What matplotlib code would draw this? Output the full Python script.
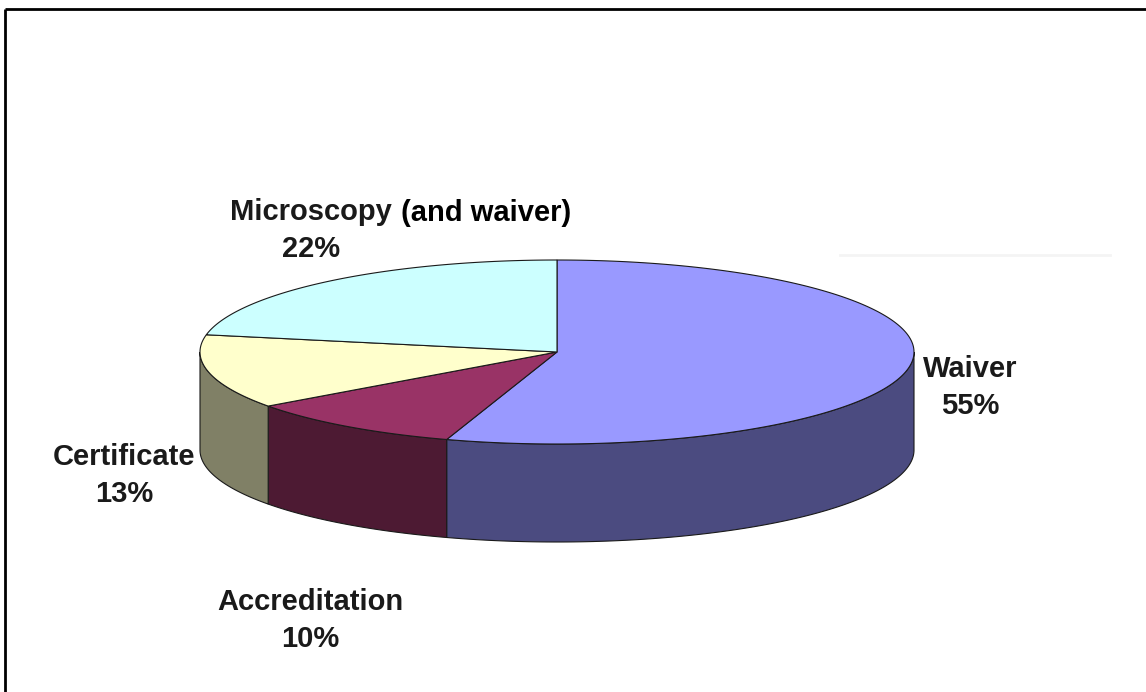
import numpy as np
import matplotlib.pyplot as plt
from matplotlib.patches import Polygon

# slice data (clockwise from 12 o'clock)
labels = ['Waiver', 'Accreditation', 'Certificate', 'Microscopy']
shares = [55, 10, 13, 22]
top_colors = ['#9999FF', '#993366', '#FFFFCC', '#CCFFFF']
side_colors = ['#4B4B80', '#4D1A33', '#808066', '#668080']

# label positions (pixel centre x, baseline y)
label_x = [970, 310, 124, 311]
label_y = [377, 610, 465, 220]

# pie geometry in pixels
cx, cy = 557, 352
rx, ry = 357, 92
depth = 98

fig = plt.figure(figsize=(11.46, 6.92), dpi=100)
ax = fig.add_axes([0, 0, 1, 1])
ax.set_xlim(0, 1146)
ax.set_ylim(692, 0)
ax.axis('off')


def arc(t1, t2, dy=0, n=200):
    t = np.radians(np.linspace(t1, t2, n))
    return np.column_stack([cx + rx * np.cos(t), cy + dy - ry * np.sin(t)])


start = 90.0
slices = []
for lab, s, tc, sc in zip(labels, shares, top_colors, side_colors):
    end = start - s * 3.6
    slices.append((start, end, tc, sc))
    start = end

# side walls (front half only: angles between -180 and 0)
for a0, a1, tc, sc in slices:
    hi = min(a0, 0)
    lo = max(a1, -180)
    if hi <= lo:
        continue
    top = arc(hi, lo)
    bot = arc(lo, hi, dy=depth)
    ax.add_patch(Polygon(np.vstack([top, bot]), closed=True, facecolor=sc,
                         edgecolor='#1a1a1a', linewidth=0.8, zorder=2))

# top faces
for a0, a1, tc, sc in slices:
    pts = np.vstack([[cx, cy], arc(a0, a1)])
    ax.add_patch(Polygon(pts, closed=True, facecolor=tc,
                         edgecolor='#1a1a1a', linewidth=0.8, zorder=3))

# labels
for lab, s, x, y in zip(labels, shares, label_x, label_y):
    ax.text(x, y, lab, ha='center', va='baseline', fontsize=21,
            fontweight='bold', family='Liberation Sans', color='#1a1a1a')
    ax.text(x, y + 37, f'{s}%', ha='center', va='baseline', fontsize=21,
            fontweight='bold', family='Liberation Sans', color='#1a1a1a')

ax.text(486, 221, '(and waiver)', ha='center', va='baseline', fontsize=21,
        fontweight='bold', family='Liberation Sans', color='black')

# faint stray line and frame edges
ax.plot([840, 1110], [255, 255], color='#f4f4f4', linewidth=2, zorder=1)
ax.plot([5, 1146], [9, 9], color='black', linewidth=2, solid_capstyle='butt')
ax.plot([5, 5], [9, 692], color='black', linewidth=2, solid_capstyle='butt')

fig.savefig('out.png', dpi=100)
